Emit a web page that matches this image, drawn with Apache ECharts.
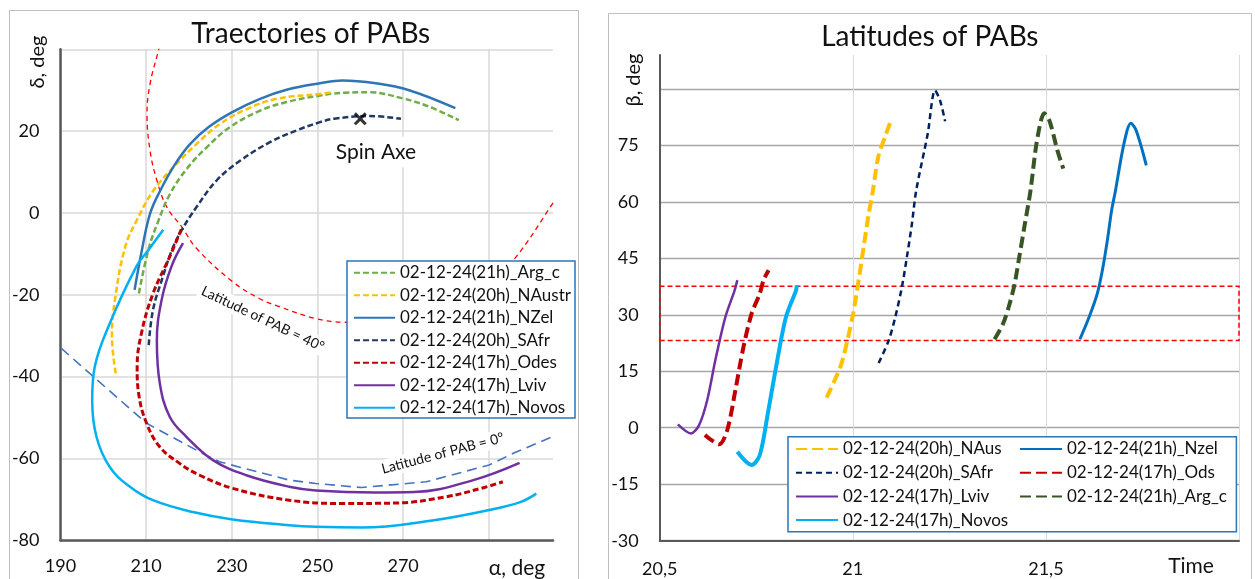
<!DOCTYPE html>
<html><head><meta charset="utf-8">
<script src="https://cdn.jsdelivr.net/npm/echarts@6.0.0/dist/echarts.min.js"></script>
<style>html,body{margin:0;padding:0;background:#fff}#c{width:1255px;height:579px}</style>
</head><body><div id="c"></div>
<script>
// ---------- Left chart: trajectories (alpha, delta) ----------
const alphaTicks = [190, 210, 230, 250, 270];
const deltaTicks = [-80, -60, -40, -20, 0, 20];
const trajArgC = [[208.3,-19.7],[210.5,-9.1],[212.9,-1.8],[215.6,4.7],[219.5,10.8],[224.2,16.1],[229.6,21.0],[236.6,25.0],[242.8,27.1],[250.6,28.7],[256.5,29.4],[262.1,29.5],[269.9,28.0],[276.0,26.0],[283.0,22.7]];
const trajNAustr = [[202.9,-39.2],[202.0,-30.0],[202.7,-21.3],[205.1,-8.3],[207.8,-1.8],[211.7,5.5],[216.4,11.2],[221.8,16.9],[227.3,21.8],[233.5,25.4],[240.5,27.9],[250.6,29.1],[253.5,29.5]];
const trajNZel = [[207.3,-18.8],[209.0,-9.1],[210.9,-0.2],[213.3,5.5],[216.8,12.0],[220.3,16.9],[224.6,21.0],[230.0,24.6],[236.6,27.9],[242.8,30.1],[250.6,31.7],[255.8,32.4],[263.6,31.7],[271.4,30.0],[282.2,25.6]];
const trajSAfr = [[210.6,-32.3],[211.6,-23.7],[213.9,-15.6],[216.0,-9.1],[218.3,-4.2],[221.8,1.5],[226.5,8.0],[232.0,12.8],[238.9,17.3],[245.2,20.2],[250.6,22.2],[254.3,23.1],[262.1,23.7],[269.5,23.0]];
const trajOdes = [[218.2,-4.0],[215.5,-10.7],[211.6,-19.7],[208.9,-29.4],[207.9,-37.6],[208.3,-44.5],[210.1,-51.4],[213.2,-57.2],[217.8,-61.2],[222.5,-64.1],[230.2,-67.3],[243.4,-70.2],[256.0,-71.0],[268.0,-70.9],[279.9,-69.4],[288.2,-67.3],[293.3,-65.7]];
const trajLviv = [[218.6,-7.4],[215.9,-13.1],[213.6,-21.3],[212.5,-31.1],[213.2,-41.7],[215.5,-49.8],[219.4,-54.7],[225.6,-60.4],[233.4,-64.1],[243.4,-66.9],[249.6,-67.8],[263.4,-68.3],[272.6,-68.2],[286.4,-65.3],[297.2,-61.1]];
const trajNovos = [[214.0,-4.1],[210.5,-9.1],[207.7,-13.1],[201.5,-27.0],[198.0,-37.6],[197.4,-45.7],[198.4,-54.7],[201.5,-62.1],[206.2,-66.9],[211.6,-70.2],[220.9,-73.1],[230.2,-74.9],[243.4,-76.3],[249.6,-76.7],[260.2,-76.9],[277.2,-75.1],[290.1,-72.6],[297.5,-70.6],[301.1,-68.6]];
const lat40Curve = [[213.2,41.0],[212.8,39.4],[210.9,31.5],[210.2,24.2],[210.9,15.3],[212.5,8.0],[214.8,1.5],[218.3,-3.4],[221.8,-8.7],[230.2,-16.8],[236.4,-20.9],[241.1,-22.9],[249.6,-25.8],[256.0,-26.7],[266.0,-26.8],[276.0,-25.0],[285.0,-21.0],[291.0,-16.0],[296.1,-11.1],[304.9,2.3],[306.0,4.5]];
const lat0Curve = [[190.2,-33.1],[198.0,-40.3],[210.1,-51.4],[222.5,-58.4],[227.1,-60.8],[243.4,-65.3],[249.6,-66.1],[260.2,-67.1],[275.4,-65.7],[290.1,-61.6],[295.6,-58.8],[304.8,-54.7]];
const spinAxis = [[260, 23]];

// ---------- Right chart: latitudes (time, beta) ----------
const timeTicks = ['20,5', '21', '21,5'];
const betaTicks = [-30, -15, 0, 15, 30, 45, 60, 75];
const latNAus = [[20.932,8.0],[20.968,16.2],[20.986,23.2],[21.001,30.3],[21.015,39.1],[21.028,47.9],[21.041,56.7],[21.052,62.9],[21.066,72.0],[21.084,77.4],[21.097,81.1]];
const latNzel = [[21.588,23.5],[21.612,29.4],[21.633,35.6],[21.646,41.7],[21.659,49.7],[21.670,57.6],[21.680,62.9],[21.702,75.4],[21.720,80.9],[21.734,78.9],[21.760,69.7]];
const latSAfr = [[21.067,17.2],[21.093,23.2],[21.110,29.4],[21.127,37.3],[21.140,45.3],[21.153,54.1],[21.164,62.9],[21.194,78.1],[21.213,89.6],[21.226,86.9],[21.239,81.4]];
const latOds = [[20.617,-1.9],[20.654,-4.4],[20.675,-0.6],[20.696,10.0],[20.717,21.5],[20.738,30.3],[20.759,35.6],[20.769,39.2],[20.782,41.8]];
const latLviv = [[20.547,0.9],[20.581,-1.5],[20.602,0.7],[20.623,7.3],[20.644,17.9],[20.670,29.4],[20.694,36.5],[20.701,39.2]];
const latArgC = [[21.367,23.5],[21.389,27.6],[21.406,32.9],[21.419,38.2],[21.431,45.3],[21.444,53.2],[21.460,62.9],[21.477,76.3],[21.496,83.5],[21.509,81.6],[21.530,73.6],[21.545,68.8]];
const latNovos = [[20.701,-6.4],[20.738,-9.9],[20.759,-7.3],[20.780,3.8],[20.806,18.8],[20.827,29.4],[20.853,36.5],[20.855,37.8]];
const bandTime = [20.5, 22];
const bandBeta = [23.2, 37.6];

const namesLeft = ['02-12-24(21h)_Arg_c','02-12-24(20h)_NAustr','02-12-24(21h)_NZel','02-12-24(20h)_SAfr','02-12-24(17h)_Odes','02-12-24(17h)_Lviv','02-12-24(17h)_Novos'];
// trailing space keeps right-chart legend entries distinct from left-chart ones
const namesRightCol1 = ['02-12-24(20h)_NAus ','02-12-24(20h)_SAfr ','02-12-24(17h)_Lviv ','02-12-24(17h)_Novos '];
const namesRightCol2 = ['02-12-24(21h)_Nzel ','02-12-24(17h)_Ods ','02-12-24(21h)_Arg_c '];

const FONT = 'Lato, "Open Sans", sans-serif';
const TXT = '#111';

function lineSer(name, data, color, width, dash, gx, smooth) {
  return {
    type: 'line', name: name, data: data, xAxisIndex: gx, yAxisIndex: gx,
    symbol: 'none', showSymbol: false, smooth: smooth,
    lineStyle: { color: color, width: width, type: dash || 'solid', cap: 'butt', join: 'round' },
    itemStyle: { color: color }, z: 2, animation: false
  };
}

const SL = 0.4, SR = 0.3;
const series = [
  lineSer('lat40', lat40Curve, '#ff0000', 1.3, [5, 4], 0, SL),
  lineSer('lat0', lat0Curve, '#4472c4', 1.6, [10, 6], 0, false),
  lineSer(namesLeft[0], trajArgC, '#70ad47', 2.5, [6, 3], 0, SL),
  lineSer(namesLeft[1], trajNAustr, '#ffc000', 2.5, [6, 3], 0, SL),
  lineSer(namesLeft[2], trajNZel, '#2e75b6', 2.5, null, 0, SL),
  lineSer(namesLeft[3], trajSAfr, '#1f3864', 2.5, [6, 3], 0, SL),
  lineSer(namesLeft[4], trajOdes, '#c00000', 3, [6, 3], 0, SL),
  lineSer(namesLeft[5], trajLviv, '#7030a0', 2.5, null, 0, SL),
  lineSer(namesLeft[6], trajNovos, '#00b0f0', 2.5, null, 0, SL),
  {
    type: 'scatter', name: 'Spin Axe', data: spinAxis, xAxisIndex: 0, yAxisIndex: 0,
    symbol: 'path://M1.6,0 L5,3.4 L8.4,0 L10,1.6 L6.6,5 L10,8.4 L8.4,10 L5,6.6 L1.6,10 L0,8.4 L3.4,5 L0,1.6 Z',
    symbolSize: 13, itemStyle: { color: '#000' }, z: 3, animation: false
  },
  Object.assign(lineSer(namesRightCol1[0], latNAus, '#ffc000', 4, [11, 5], 1, SR), {
    markArea: {
      silent: true, label: { show: false },
      itemStyle: { color: 'rgba(0,0,0,0)', borderColor: '#ff0000', borderWidth: 1.5, borderType: [5, 3] },
      data: [[{ coord: [bandTime[0], bandBeta[0]] }, { coord: [bandTime[1], bandBeta[1]] }]]
    }
  }),
  lineSer(namesRightCol2[0], latNzel, '#0070c0', 3, null, 1, SR),
  lineSer(namesRightCol1[1], latSAfr, '#002060', 2.5, [6, 4], 1, SR),
  lineSer(namesRightCol2[1], latOds, '#c00000', 4, [11, 5], 1, SR),
  lineSer(namesRightCol1[2], latLviv, '#7030a0', 2.5, null, 1, SR),
  lineSer(namesRightCol2[2], latArgC, '#375623', 4, [11, 5], 1, SR),
  lineSer(namesRightCol1[3], latNovos, '#00b0f0', 4, null, 1, SR)
];

const labelStyle = { fontSize: 18, fontFamily: FONT, color: TXT };
function txt(x, y, text, size, opts) {
  return Object.assign({
    type: 'text', x: x, y: y, z: 1, silent: true,
    style: Object.assign({ text: text, fill: TXT, font: size + 'px ' + FONT, align: 'center', verticalAlign: 'middle' }, (opts && opts.style) || {})
  }, opts && opts.el ? opts.el : {});
}
const legendCommon = {
  orient: 'vertical', padding: 0, itemHeight: 14, selectedMode: false, z: 4,
  itemStyle: { opacity: 0 },
  textStyle: { fontSize: 17, fontFamily: FONT, color: TXT, lineHeight: 20 }
};

const option = {
  animation: false,
  backgroundColor: '#fff',
  grid: [
    { left: 60.5, top: 49.3, width: 492.5, height: 491 },
    { left: 659.7, top: 55, width: 579.3, height: 485.7 }
  ],
  xAxis: [
    {
      gridIndex: 0, type: 'value', min: 190, max: 305, interval: 20,
      axisLine: { show: true, onZero: false, lineStyle: { color: '#595959', width: 2.5 } },
      axisTick: { show: false },
      splitLine: { show: true, showMaxLine: false, lineStyle: { color: '#d9d9d9', width: 1.5 } },
      axisLabel: Object.assign({ margin: 17, showMaxLabel: false,
        formatter: function (v) { return alphaTicks.indexOf(v) >= 0 ? String(v) : ''; } }, labelStyle)
    },
    {
      gridIndex: 1, type: 'value', min: 20.5, max: 22, interval: 0.5,
      axisLine: { show: true, onZero: false, lineStyle: { color: '#595959', width: 2 } },
      axisTick: { show: false },
      splitLine: { show: true, lineStyle: { color: '#d9d9d9', width: 1 } },
      axisLabel: Object.assign({ margin: 19,
        formatter: function (v) { const s = String(v).replace('.', ','); return timeTicks.indexOf(s) >= 0 ? s : ''; } }, labelStyle)
    }
  ],
  yAxis: [
    {
      gridIndex: 0, type: 'value', min: -80, max: 40, interval: 20,
      axisLine: { show: true, onZero: false, lineStyle: { color: '#595959', width: 2.5 } },
      axisTick: { show: false },
      splitLine: { show: true, lineStyle: { color: '#d9d9d9', width: 1.5 } },
      axisLabel: Object.assign({ margin: 21,
        formatter: function (v) { return deltaTicks.indexOf(v) >= 0 ? String(v) : ''; } }, labelStyle)
    },
    {
      gridIndex: 1, type: 'value', min: -30, max: 99, interval: 15,
      axisLine: { show: true, onZero: false, lineStyle: { color: '#595959', width: 2 } },
      axisTick: { show: false },
      splitLine: { show: true, showMaxLine: false, lineStyle: { color: '#a6a6a6', width: 1.3 } },
      axisLabel: Object.assign({ margin: 21, showMaxLabel: false,
        formatter: function (v) { return betaTicks.indexOf(v) >= 0 ? String(v) : ''; } }, labelStyle)
    }
  ],
  legend: [
    Object.assign({}, legendCommon, { left: 353, top: 262.7, itemGap: 2.5, itemWidth: 41, data: namesLeft }),
    Object.assign({}, legendCommon, { left: 795, top: 439, itemGap: 3.7, itemWidth: 42, data: namesRightCol1 }),
    Object.assign({}, legendCommon, { left: 1019, top: 439, itemGap: 3.7, itemWidth: 42, data: namesRightCol2 })
  ],
  graphic: [
    { type: 'rect', silent: true, z: 0, shape: { x: 9.5, y: 10.5, width: 569, height: 620 }, style: { fill: 'none', stroke: '#bfbfbf', lineWidth: 1 } },
    { type: 'rect', silent: true, z: 0, shape: { x: 608.5, y: 13.5, width: 643, height: 620 }, style: { fill: 'none', stroke: '#bfbfbf', lineWidth: 1 } },
    { type: 'rect', silent: true, z: 3, shape: { x: 347, y: 261, width: 228, height: 157 }, style: { fill: '#fff', stroke: '#2e75b6', lineWidth: 1.5 } },
    { type: 'rect', silent: true, z: 3, shape: { x: 788, y: 436.7, width: 448.4, height: 95 }, style: { fill: '#fff', stroke: '#2e75b6', lineWidth: 1.5 } },
    txt(310.8, 34, 'Traectories of PABs', 28),
    txt(929.8, 37, 'Latitudes of PABs', 28),
    txt(37.5, 62, 'δ, deg', 20, { el: { rotation: Math.PI / 2 }, style: { backgroundColor: '#fff', padding: [0, 2] } }),
    txt(634, 80, 'β, deg', 20, { el: { rotation: Math.PI / 2 }, style: { backgroundColor: '#fff', padding: [0, 2] } }),
    txt(517, 568, 'α, deg', 21),
    txt(1191, 566, 'Time', 21),
    txt(376, 152, 'Spin Axe', 21, { style: { backgroundColor: '#fff', padding: [5, 6] } }),
    txt(262.8, 319, 'Latitude of PAB = 40°', 14, { el: { rotation: -0.443 }, style: { backgroundColor: '#fff', padding: [2, 3] } }),
    txt(442.8, 453.3, 'Latitude of PAB = 0°', 14, { el: { rotation: 0.258 }, style: { backgroundColor: '#fff', padding: [2, 3] } })
  ],
  series: series
};

const chart = echarts.init(document.getElementById('c'), null, { renderer: 'canvas' });
chart.setOption(option);
</script></body></html>
